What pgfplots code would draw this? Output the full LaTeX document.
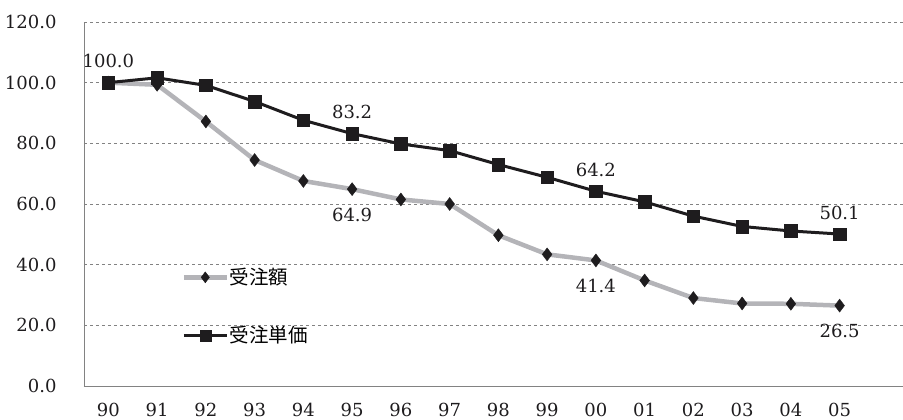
\documentclass[border=0pt]{standalone}
\usepackage{pgfplots}
\pgfplotsset{compat=1.18}
\usepackage{fontspec}
\setmainfont{DejaVu Serif}
\newfontfamily\cjk{Noto Sans CJK JP}
\definecolor{lgray}{RGB}{180,180,184}
\definecolor{dk}{RGB}{30,28,30}
\definecolor{axgray}{RGB}{130,130,130}
\begin{document}
\begin{tikzpicture}
\useasboundingbox (-84pt,-34pt) rectangle (819pt,386pt);
\begin{axis}[
  at={(0,0)}, anchor=south west,
  scale only axis, width=819pt, height=364pt,
  xmin=-0.5, xmax=16.3, ymin=0, ymax=120,
  ytick={0,20,...,120},
  xtick={0,...,15},
  xticklabels={90,91,92,93,94,95,96,97,98,99,00,01,02,03,04,05},
  /pgf/number format/assume math mode=true,
  yticklabel style={/pgf/number format/fixed,/pgf/number format/fixed zerofill,/pgf/number format/precision=1, xshift=-24pt},
  tick label style={font=\fontsize{18}{20}\selectfont, text=dk},
  major tick length=0pt,
  axis x line*=bottom, axis y line*=left,
  axis line style={axgray, line width=0.8pt},
  x axis line style={-}, y axis line style={-},
  ymajorgrids, grid style={axgray, dashed, line width=0.6pt},
  xticklabel style={yshift=-14pt},
  legend style={at={(axis cs:1.5,39.5)}, anchor=north west, draw=none, fill=none,
    font=\cjk\fontsize{19.5}{22}\selectfont, row sep=36pt, inner sep=0pt,
    /tikz/every even column/.append style={column sep=0pt},
    nodes={inner xsep=1pt}},
  legend cell align=left,
  legend image code/.code={
    \draw[#1, mark repeat=2, mark phase=2, mark size=5.5pt] plot coordinates {(0cm,0cm) (0.75cm,0cm) (1.5cm,0cm)};},
]
\addplot[lgray, line width=4.5pt, mark=diamond*, mark size=6.5pt,
  mark options={dk, fill=dk, line width=0.4pt}] coordinates {
(0,100.0) (1,99.3) (2,87.2) (3,74.5) (4,67.6) (5,64.9) (6,61.5) (7,60.0)
(8,49.7) (9,43.4) (10,41.4) (11,34.8) (12,29.0) (13,27.2) (14,27.1) (15,26.5)};
\addlegendentry{受注額}
\addplot[dk, line width=3pt, mark=square*, mark size=6.3pt,
  mark options={dk, fill=dk, line width=0.4pt}] coordinates {
(0,100.0) (1,101.6) (2,99.1) (3,93.8) (4,87.6) (5,83.2) (6,79.8) (7,77.6)
(8,73.0) (9,68.8) (10,64.2) (11,60.7) (12,56.0) (13,52.6) (14,51.1) (15,50.1)};
\addlegendentry{受注単価}
\begin{scope}[every node/.style={font=\fontsize{18}{20}\selectfont, text=dk}]
\node[above, yshift=11pt] at (axis cs:0,100.0) {100.0};
\node[above, yshift=11pt] at (axis cs:5,83.2) {83.2};
\node[above, yshift=11pt] at (axis cs:10,64.2) {64.2};
\node[above, yshift=11pt] at (axis cs:15,50.1) {50.1};
\node[below, yshift=-15pt] at (axis cs:5,64.9) {64.9};
\node[below, yshift=-15pt] at (axis cs:10,41.4) {41.4};
\node[below, yshift=-15pt] at (axis cs:15,26.5) {26.5};
\end{scope}
\end{axis}
\end{tikzpicture}
\end{document}
